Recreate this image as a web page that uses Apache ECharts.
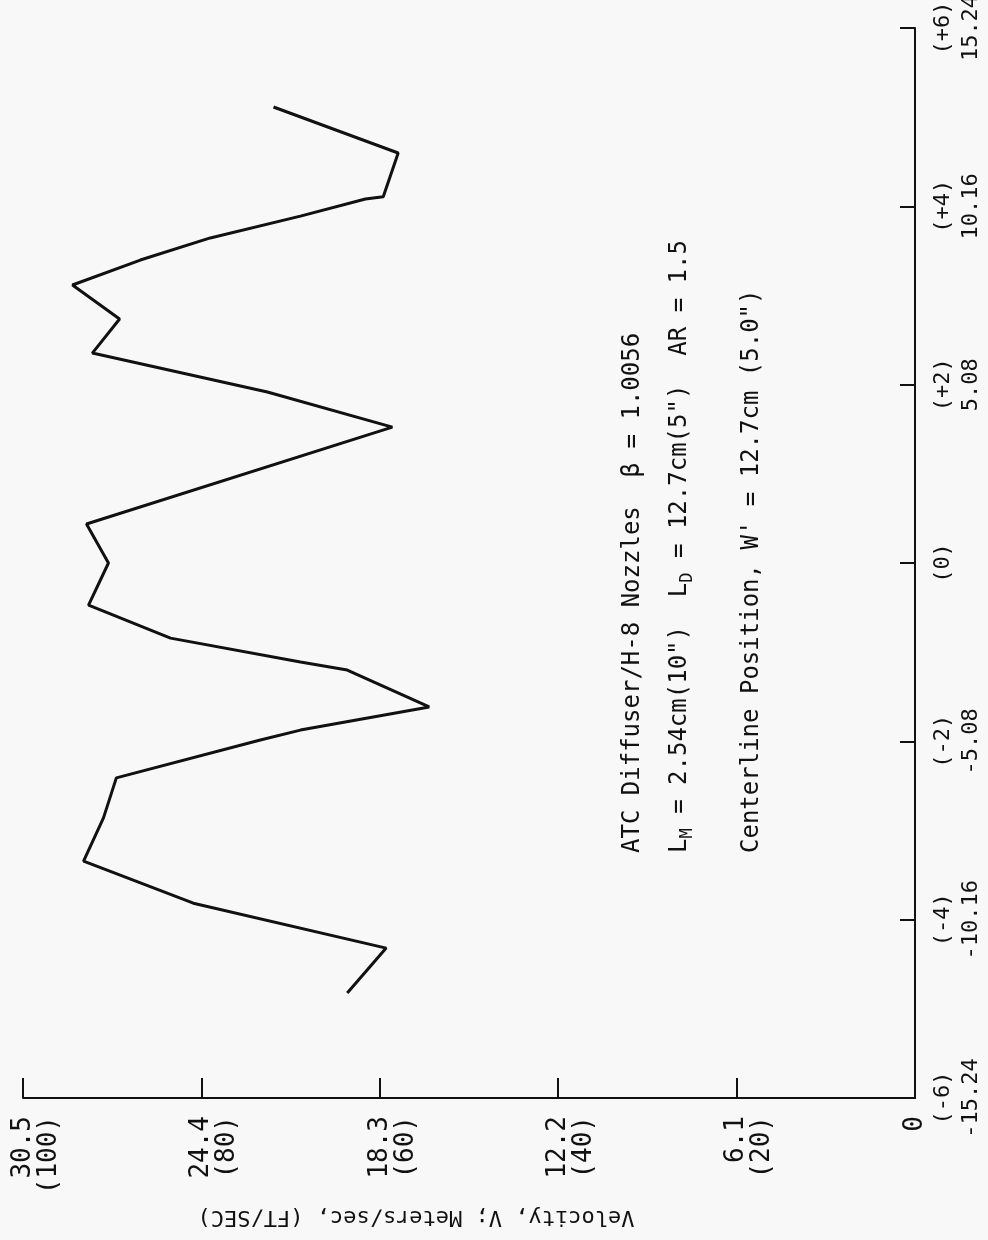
<!DOCTYPE html>
<html>
<head>
<meta charset="utf-8">
<script src="https://cdn.jsdelivr.net/npm/echarts@6/dist/echarts.min.js"></script>
<style>
html,body{margin:0;padding:0;background:#f8f8f8;}
#chart{width:988px;height:1240px;}
</style>
</head>
<body>
<div id="chart"></div>
<script>
// Velocity V' in m/s (horizontal axis, increasing to the left)
var velocity = [19.40, 18.07, 24.66, 28.41, 27.73, 27.29, 22.37, 21.00, 16.60, 19.40,
                21.00, 25.44, 28.24, 27.56, 28.31, 17.86, 22.13, 28.11, 27.18, 28.79,
                26.47, 24.08, 21.00, 18.78, 18.17, 17.66, 21.92];
// Centerline position in cm (vertical axis)
var position = [-12.25, -10.97, -9.69, -8.49, -7.26, -6.12, -5.04, -4.76, -4.10, -3.05,
                -2.82, -2.14, -1.20, 0.00, 1.11, 3.87, 4.87, 5.98, 6.95, 7.92,
                8.63, 9.26, 9.88, 10.37, 10.43, 11.68, 12.99];
// Axis ticks
var velocityTicksMS = [0, 6.096, 12.192, 18.288, 24.384, 30.48];
var positionTicksCM = [-15.24, -10.16, -5.08, 0, 5.08, 10.16, 15.24];

var annotations = [
  'ATC Diffuser/H-8 Nozzles  \u03B2 = 1.0056',
  'L{sub|M} = 2.54cm(10")  L{sub|D} = 12.7cm(5")  AR = 1.5',
  'Centerline Position, W\' = 12.7cm (5.0")'
];
var xTitle = 'Velocity, V; Meters/sec, (FT/SEC)';

var FONT = 'DejaVu Sans Mono';
var data = velocity.map(function (v, i) { return [v, position[i]]; });

var chart = echarts.init(document.getElementById('chart'));
chart.setOption({
  backgroundColor: '#f8f8f8',
  animation: false,
  grid: { left: 23, right: 73, top: 28, bottom: 142, containLabel: false, outerBoundsMode: 'none' },
  xAxis: {
    type: 'value',
    inverse: true,
    min: velocityTicksMS[0],
    max: velocityTicksMS[velocityTicksMS.length - 1],
    interval: 6.096,
    splitLine: { show: false },
    axisLine: { onZero: false, lineStyle: { color: '#111', width: 2 } },
    axisTick: { inside: true, length: 20, lineStyle: { color: '#111', width: 2 } },
    axisLabel: {
      rotate: 90,
      margin: 18,
      color: '#111',
      fontFamily: FONT,
      fontSize: 26,
      lineHeight: 26,
      formatter: function (v) {
        if (Math.abs(v) < 1e-6) return '0';
        return ' \n' + v.toFixed(1) + '\n(' + Math.round(v / 0.3048) + ')';
      }
    },
    name: xTitle,
    nameLocation: 'middle',
    nameRotate: 180,
    nameGap: 108,
    nameTextStyle: { color: '#111', fontFamily: FONT, fontSize: 22, padding: [0, 0, 0, 106] }
  },
  yAxis: {
    type: 'value',
    position: 'right',
    min: positionTicksCM[0],
    max: positionTicksCM[positionTicksCM.length - 1],
    interval: 5.08,
    splitLine: { show: false },
    axisLine: { onZero: false, lineStyle: { color: '#111', width: 2 } },
    axisTick: { inside: true, length: 15, lineStyle: { color: '#111', width: 2 } },
    axisLabel: {
      rotate: 90,
      margin: 14,
      color: '#111',
      fontFamily: FONT,
      fontSize: 22,
      lineHeight: 28,
      formatter: function (v) {
        var inch = Math.round(v / 2.54);
        if (inch === 0) return '(0)';
        var s = inch > 0 ? '(+' + inch + ')' : '(' + inch + ')';
        return s + '\n' + v.toFixed(2);
      }
    }
  },
  series: [{
    type: 'line',
    data: data,
    showSymbol: false,
    symbol: 'none',
    lineStyle: { color: '#111', width: 3 },
    z: 3
  }],
  graphic: [
    { type: 'text', x: 633, y: 853, rotation: Math.PI / 2,
      style: { text: annotations[0], fill: '#111', font: '24px ' + FONT,
               align: 'left', verticalAlign: 'middle', textAlign: 'left', textVerticalAlign: 'middle' } },
    { type: 'text', x: 680, y: 853, rotation: Math.PI / 2,
      style: { text: annotations[1], fill: '#111', font: '24px ' + FONT,
               align: 'left', verticalAlign: 'middle', textAlign: 'left', textVerticalAlign: 'middle',
               rich: { sub: { fontSize: 17, fontFamily: FONT, fill: '#111', padding: [16, 0, 0, 0] } } } },
    { type: 'text', x: 752, y: 853, rotation: Math.PI / 2,
      style: { text: annotations[2], fill: '#111', font: '24px ' + FONT,
               align: 'left', verticalAlign: 'middle', textAlign: 'left', textVerticalAlign: 'middle' } }
  ]
});
</script>
</body>
</html>
